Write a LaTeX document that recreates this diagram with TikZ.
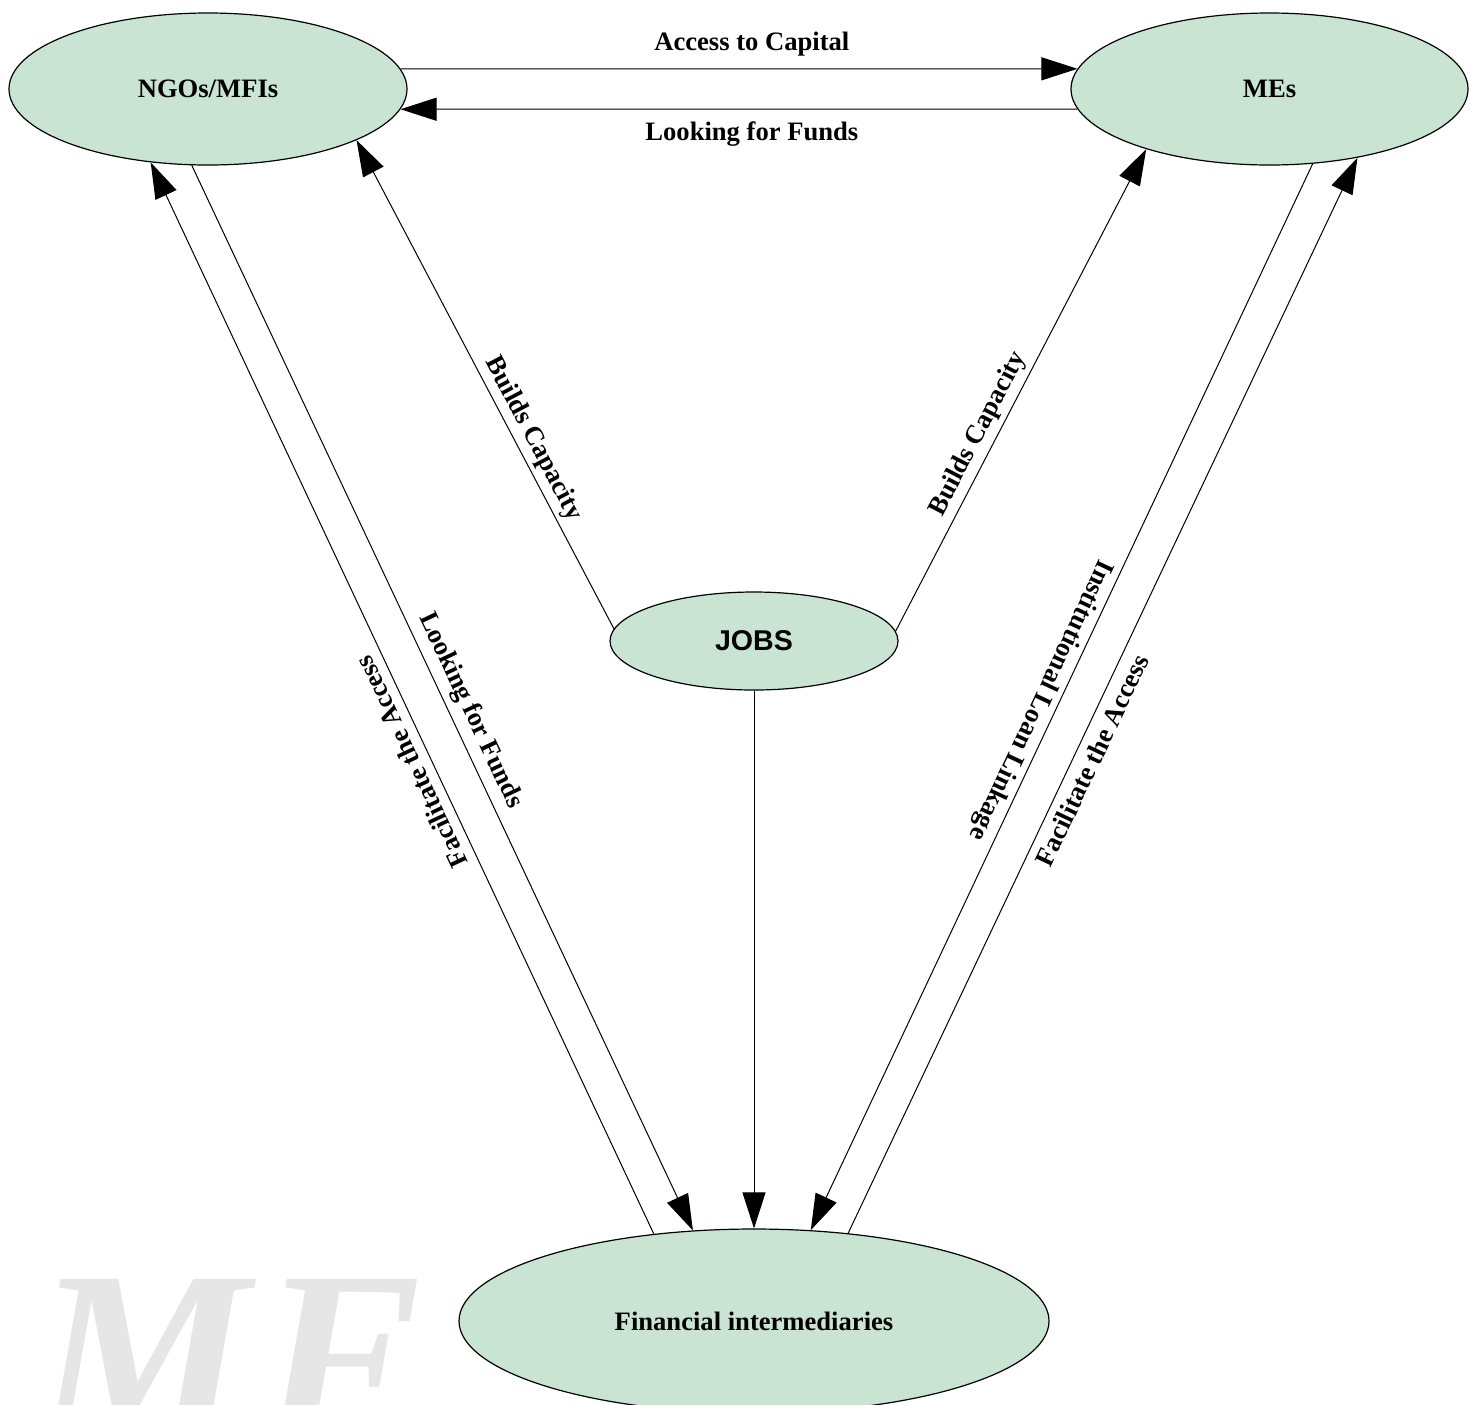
\documentclass[tikz,border=0pt]{standalone}
\usepackage{fontspec}
\setmainfont{Liberation Serif}
\newfontfamily\jobsfont{Liberation Sans}
\usetikzlibrary{shapes.geometric, arrows.meta, positioning}
\definecolor{mint}{RGB}{202,228,212}
\definecolor{wmgray}{RGB}{230,230,230}

\begin{document}
\begin{tikzpicture}[
    x=0.5pt, y=-0.5pt,
    party/.style={ellipse, draw=black, line width=0.6pt, fill=mint, inner sep=0pt, font=\fontsize{13.3}{16}\selectfont\bfseries},
    hub/.style={party, minimum width=144pt, minimum height=49pt, font=\jobsfont\bfseries\fontsize{14.3}{17}\selectfont},
    arr/.style={-{Triangle[length=18pt, width=11.5pt]}, line width=0.5pt, black},
    lbl/.style={font=\fontsize{13.3}{16}\selectfont\bfseries, inner sep=0pt, sloped},
]

\useasboundingbox (0,0) rectangle (1476,1404);
\clip (0,0) rectangle (1476,1404);

% watermark
\node[anchor=base west, inner sep=0pt, text=wmgray, font=\fontsize{120}{120}\selectfont\bfseries\itshape] (wm) at (36,1436) {M\kern6pt F};

\node[party, minimum width=199pt, minimum height=76pt] (ngo) at (208,89) {NGOs/MFIs};
\node[party, minimum width=198.5pt, minimum height=76pt] (mes) at (1269.5,89) {MEs};
\node[hub] (jobs) at (754,641) {JOBS};
\node[party, minimum width=295pt, minimum height=92pt] (fin) at (754,1321) {Financial intermediaries};

\draw[arr] (ngo.6) -- node[lbl, pos=0.519, yshift=12.5pt] {Access to Capital} (mes.174);
\draw[arr] (mes.186) -- node[lbl, pos=0.481, yshift=-12.5pt] {Looking for Funds} (ngo.-6);

\draw[arr] (jobs.175) -- node[lbl, pos=0.372, yshift=8.5pt] {Builds Capacity} (ngo.-19);
\draw[arr] (jobs.4) -- node[lbl, pos=0.392, yshift=8.8pt] {Builds Capacity} (mes.206);
\draw[arr] (jobs) -- (fin);

\draw[arr] (fin.139) -- node[lbl, allow upside down, pos=0.448, yshift=9.5pt] {Facilitate the Access} (ngo.232);
\draw[arr] (ngo.258) -- node[lbl, pos=0.52, yshift=10pt] {Looking for Funds} (fin.124);
\draw[arr] (mes.-60) -- node[lbl, allow upside down, pos=0.51, yshift=-9pt] {Institutional Loan Linkage} (fin.58.5);
\draw[arr] (fin.43) -- node[lbl, pos=0.447, yshift=-9pt] {Facilitate the Access} (mes.-38);

\end{tikzpicture}
\end{document}
